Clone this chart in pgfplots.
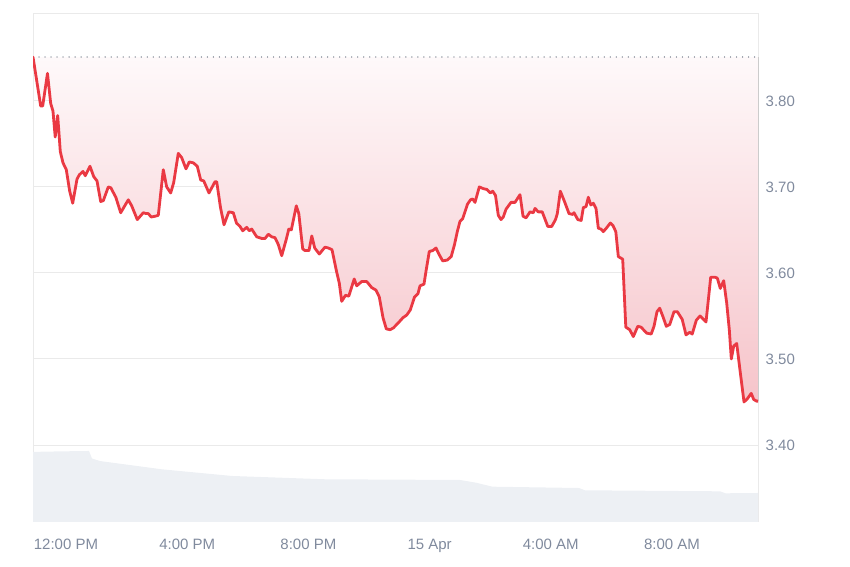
\documentclass[border=0pt]{standalone}
\usepackage{pgfplots}
\pgfplotsset{compat=1.18}
\usepackage{pgfplotstable}
\usepgfplotslibrary{fillbetween}
\usepackage{fontspec}
\setmainfont{Liberation Sans}
\definecolor{pricered}{RGB}{234,57,67}
\definecolor{ticktext}{RGB}{128,138,157}
\definecolor{gridc}{RGB}{234,234,234}
\definecolor{volc}{RGB}{237,240,244}
\definecolor{shadetop}{RGB}{254,249,250}
\definecolor{shademid}{RGB}{252,233,235}
\definecolor{shadebot}{RGB}{246,196,202}
\definecolor{dotc}{RGB}{150,156,166}

\pgfplotstableread{
h p
-1.089 3.851
-0.835 3.794
-0.769 3.794
-0.611 3.832
-0.505 3.797
-0.429 3.788
-0.356 3.758
-0.274 3.783
-0.188 3.741
-0.099 3.728
0.010 3.720
0.122 3.695
0.221 3.681
0.363 3.709
0.439 3.714
0.561 3.718
0.637 3.713
0.792 3.724
0.914 3.712
1.023 3.707
1.145 3.683
1.231 3.684
1.396 3.700
1.479 3.699
1.644 3.688
1.805 3.670
2.056 3.685
2.168 3.678
2.353 3.662
2.551 3.670
2.640 3.669
2.716 3.669
2.812 3.665
2.954 3.666
3.046 3.667
3.211 3.720
3.323 3.700
3.455 3.693
3.554 3.705
3.706 3.739
3.818 3.734
3.960 3.721
4.069 3.729
4.201 3.728
4.333 3.724
4.446 3.708
4.545 3.707
4.719 3.693
4.917 3.706
4.974 3.706
5.099 3.676
5.215 3.656
5.373 3.671
5.521 3.670
5.627 3.658
5.743 3.654
5.832 3.649
5.964 3.653
6.050 3.649
6.129 3.651
6.294 3.642
6.469 3.640
6.568 3.640
6.677 3.645
6.789 3.642
6.898 3.641
7.007 3.633
7.119 3.620
7.261 3.638
7.353 3.651
7.436 3.650
7.601 3.678
7.683 3.669
7.812 3.628
7.888 3.626
8.020 3.626
8.112 3.643
8.208 3.629
8.360 3.622
8.548 3.630
8.657 3.629
8.779 3.627
8.927 3.602
9.020 3.588
9.099 3.567
9.224 3.574
9.333 3.573
9.512 3.593
9.594 3.585
9.759 3.590
9.924 3.590
10.089 3.583
10.231 3.580
10.340 3.572
10.462 3.548
10.571 3.535
10.693 3.534
10.802 3.536
10.967 3.542
11.122 3.548
11.244 3.551
11.363 3.557
11.502 3.572
11.617 3.576
11.683 3.585
11.815 3.587
11.881 3.602
11.990 3.625
12.102 3.626
12.211 3.629
12.304 3.622
12.432 3.614
12.584 3.615
12.713 3.619
12.822 3.633
12.914 3.648
13.003 3.660
13.092 3.663
13.251 3.680
13.350 3.685
13.422 3.686
13.498 3.682
13.640 3.700
13.772 3.698
13.894 3.697
14.003 3.693
14.083 3.695
14.175 3.690
14.267 3.667
14.356 3.662
14.432 3.665
14.521 3.674
14.686 3.682
14.818 3.682
14.983 3.691
15.083 3.666
15.182 3.664
15.314 3.671
15.422 3.670
15.479 3.675
15.587 3.671
15.716 3.671
15.901 3.654
16.030 3.654
16.155 3.662
16.215 3.669
16.314 3.695
16.452 3.683
16.601 3.669
16.723 3.668
16.766 3.670
16.891 3.662
17.003 3.661
17.073 3.676
17.162 3.677
17.238 3.688
17.320 3.679
17.403 3.681
17.492 3.675
17.568 3.652
17.657 3.651
17.733 3.648
17.832 3.652
17.964 3.658
18.053 3.655
18.145 3.648
18.228 3.619
18.373 3.616
18.475 3.537
18.604 3.534
18.723 3.526
18.871 3.538
18.977 3.537
19.165 3.530
19.314 3.529
19.406 3.538
19.505 3.555
19.594 3.559
19.703 3.549
19.812 3.538
19.924 3.540
20.066 3.555
20.175 3.555
20.337 3.546
20.462 3.528
20.584 3.531
20.667 3.529
20.802 3.545
20.924 3.550
21.013 3.547
21.122 3.543
21.277 3.595
21.419 3.595
21.495 3.594
21.594 3.582
21.706 3.591
21.805 3.565
21.891 3.534
21.957 3.500
22.036 3.515
22.135 3.518
22.244 3.487
22.376 3.450
22.492 3.454
22.614 3.460
22.696 3.453
22.789 3.451
22.838 3.451
}\pricedata

\pgfplotstableread{
h v
-1.089 13.80
-0.200 13.90
0.759 13.98
0.858 12.50
1.122 12.00
3.168 10.37
5.479 9.06
8.548 8.41
13.003 8.27
13.531 7.74
14.076 6.95
16.931 6.69
17.129 6.24
21.584 6.04
21.766 5.65
22.838 5.71
}\voldata

\begin{document}
\begin{tikzpicture}
\begin{axis}[
  scale only axis, width=543.75pt, height=381pt,
  xmin=-1.089, xmax=22.838, ymin=0, ymax=100,
  hide axis, clip=true]
\addplot[draw=none, fill=volc] table[x=h,y=v]{\voldata} \closedcycle;
\end{axis}
\begin{axis}[
  scale only axis, width=543.75pt, height=381pt,
  xmin=-1.089, xmax=22.838, ymin=3.3105, ymax=3.901,
  axis line style={draw=gridc, line width=0.75pt},
  ymajorgrids, grid style={draw=gridc, line width=0.75pt},
  ytick={3.4,3.5,3.6,3.7,3.8},
  yticklabel pos=right,
  xtick={0,4,8,12,16,20},
  xticklabels={12:00 PM,4:00 PM,8:00 PM,15 Apr,4:00 AM,8:00 AM},
  major tick length=0pt,
  tick label style={font=\fontsize{11.25}{13}\selectfont, text=ticktext},
  /pgf/number format/assume math mode=true,
  /pgf/number format/.cd, fixed, fixed zerofill, precision=2, /pgfplots/.cd,
  yticklabel style={anchor=west, xshift=2.25pt},
  xticklabel style={anchor=north, yshift=-9.5pt},
]
\addplot[name path=base, draw=dotc, line width=1pt, dash pattern=on 0.01pt off 4.5pt, line cap=round]
  coordinates {(-1.089,3.851) (22.838,3.851)};
\addplot[name path=price, draw=none] table[x=h,y=p]{\pricedata};
\addplot[draw=none, top color=shadetop, middle color=shademid, bottom color=shadebot] fill between[of=price and base];
\addplot[pricered, line width=2.1pt, line join=round, line cap=round] table[x=h,y=p]{\pricedata};
\end{axis}
\pgfresetboundingbox
\path[use as bounding box] ([xshift=-24.75pt,yshift=-33.75pt]current axis.south west) rectangle ++(637.5pt,425.25pt);
\end{tikzpicture}
\end{document}
